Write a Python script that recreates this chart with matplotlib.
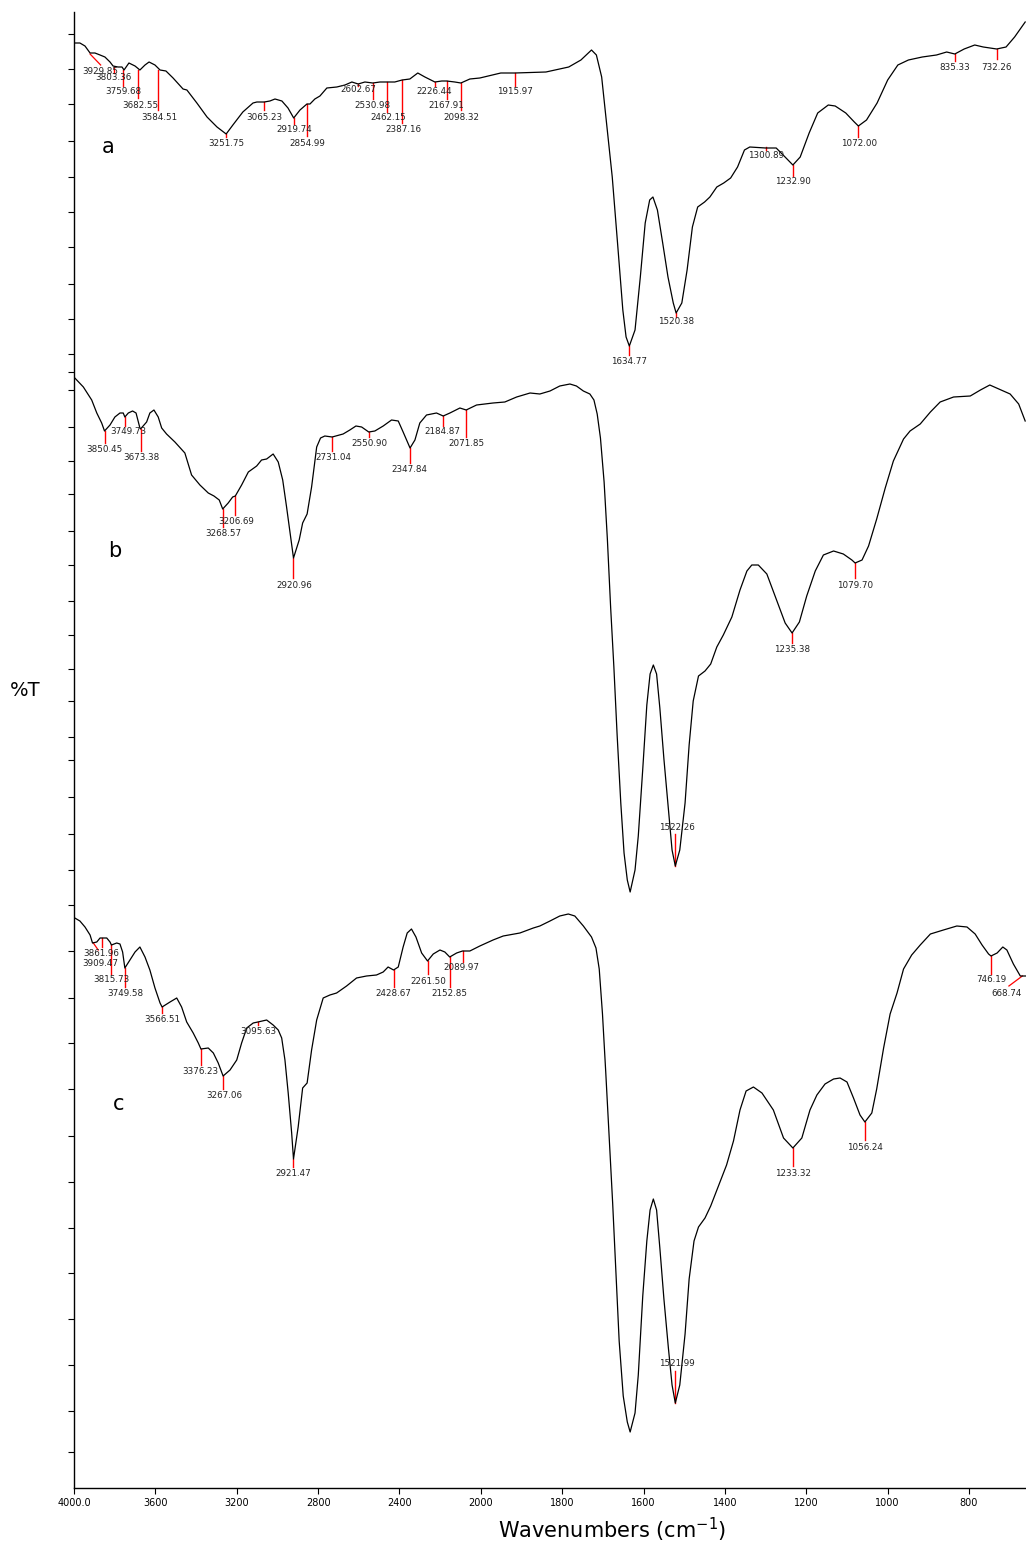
import numpy as np
import matplotlib
matplotlib.use("Agg")
import matplotlib.pyplot as plt

# ---------------- data (wavenumber cm-1, transmittance arb. units) ----------------
a_wn = [3996, 3971, 3946, 3921, 3897, 3872, 3848, 3823, 3808, 3784, 3764, 3754, 3730, 3700, 3676,
        3651, 3631, 3602, 3577, 3548, 3513, 3464, 3445, 3396, 3346, 3297, 3252, 3219, 3170, 3120,
        3101, 3065, 3037, 3012, 2978, 2948, 2920, 2889, 2855, 2840, 2816, 2791, 2757, 2708, 2668,
        2634, 2603, 2570, 2531, 2496, 2462, 2423, 2387, 2349, 2310, 2275, 2226, 2192, 2168, 2128,
        2098, 2054, 2005, 1951, 1916, 1840, 1784, 1754, 1728, 1716, 1703, 1690, 1677, 1664, 1651,
        1643, 1635, 1621, 1608, 1596, 1585, 1577, 1566, 1553, 1540, 1527, 1520, 1506, 1493, 1480,
        1467, 1450, 1437, 1420, 1403, 1386, 1369, 1352, 1339, 1300, 1274, 1257, 1233, 1215, 1193,
        1172, 1146, 1129, 1103, 1082, 1072, 1052, 1026, 1000, 975, 949, 915, 880, 855, 835,
        812, 786, 765, 732, 709, 688, 662]
a_t = [1445, 1445, 1442, 1435, 1435, 1433, 1431, 1426, 1422, 1421, 1421, 1418, 1425, 1422, 1418,
       1423, 1426, 1423, 1418, 1417, 1410, 1399, 1398, 1385, 1371, 1361, 1354, 1363, 1376, 1385,
       1386, 1386, 1387, 1389, 1387, 1380, 1370, 1378, 1384, 1384, 1389, 1392, 1400, 1401, 1403,
       1406, 1404, 1406, 1405, 1406, 1406, 1406, 1408, 1409, 1415, 1411, 1406, 1407, 1407, 1406,
       1405, 1409, 1410, 1415, 1415, 1416, 1421, 1428, 1438, 1433, 1411, 1361, 1311, 1245, 1178,
       1151, 1142, 1158, 1211, 1265, 1288, 1291, 1278, 1245, 1211, 1185, 1175, 1185, 1218, 1261,
       1281, 1286, 1291, 1301, 1305, 1310, 1321, 1338, 1341, 1340, 1340, 1333, 1323, 1331, 1355,
       1375, 1383, 1382, 1375, 1366, 1362, 1368, 1385, 1408, 1423, 1428, 1431, 1433, 1436, 1434,
       1439, 1443, 1441, 1439, 1441, 1451, 1466]

b_wn = [3996, 3954, 3913, 3888, 3864, 3850, 3823, 3799, 3774, 3758, 3750, 3733, 3712, 3695, 3676,
        3673, 3643, 3627, 3607, 3586, 3569, 3545, 3504, 3455, 3422, 3381, 3340, 3312, 3286, 3269,
        3242, 3220, 3207, 3176, 3143, 3102, 3078, 3053, 3021, 2996, 2974, 2955, 2935, 2921, 2893,
        2876, 2854, 2832, 2807, 2788, 2767, 2731, 2677, 2644, 2614, 2586, 2551, 2521, 2480, 2439,
        2406, 2382, 2348, 2324, 2300, 2267, 2218, 2185, 2152, 2103, 2072, 2021, 1970, 1941, 1912,
        1879, 1855, 1830, 1806, 1781, 1765, 1748, 1732, 1722, 1714, 1706, 1697, 1689, 1681, 1673,
        1665, 1656, 1648, 1640, 1633, 1621, 1613, 1602, 1592, 1584, 1576, 1568, 1560, 1550, 1539,
        1530, 1522, 1511, 1498, 1488, 1478, 1465, 1449, 1435, 1420, 1404, 1383, 1363, 1346, 1334,
        1318, 1297, 1273, 1252, 1235, 1217, 1199, 1178, 1158, 1133, 1109, 1088, 1080, 1063, 1047,
        1027, 1006, 986, 961, 945, 920, 895, 871, 838, 797, 772, 749, 727, 699, 678, 662]
b_t = [1110, 1101, 1088, 1075, 1065, 1057, 1063, 1071, 1075, 1075, 1071, 1075, 1077, 1075, 1060,
       1059, 1066, 1075, 1078, 1071, 1060, 1054, 1046, 1035, 1013, 1003, 995, 992, 988, 979,
       985, 991, 992, 1003, 1016, 1022, 1028, 1029, 1034, 1026, 1008, 981, 951, 930, 948,
       965, 974, 1001, 1041, 1050, 1052, 1051, 1054, 1058, 1062, 1061, 1056, 1057, 1062, 1068,
       1067, 1056, 1040, 1048, 1065, 1073, 1075, 1072, 1075, 1080, 1078, 1083, 1085, 1086, 1091,
       1095, 1094, 1097, 1102, 1104, 1102, 1097, 1094, 1088, 1074, 1050, 1006, 949, 881, 821,
       753, 685, 635, 608, 596, 618, 652, 719, 783, 814, 823, 814, 780, 729, 679,
       638, 622, 638, 685, 743, 787, 812, 817, 824, 841, 853, 871, 898, 917, 923,
       923, 914, 888, 865, 855, 866, 892, 917, 933, 937, 934, 928, 925, 928, 942,
       969, 1000, 1027, 1049, 1057, 1064, 1076, 1086, 1091, 1092, 1098, 1103, 1099, 1094, 1084, 1067]

c_wn = [3996, 3971, 3946, 3921, 3909, 3888, 3872, 3862, 3839, 3823, 3816, 3790, 3774, 3761, 3750,
        3725, 3700, 3676, 3651, 3627, 3602, 3577, 3567, 3528, 3495, 3471, 3446, 3414, 3389, 3376,
        3340, 3315, 3291, 3267, 3233, 3200, 3176, 3151, 3119, 3096, 3053, 3021, 2996, 2979, 2963,
        2947, 2930, 2921, 2898, 2876, 2854, 2832, 2807, 2775, 2742, 2709, 2660, 2611, 2562, 2513,
        2480, 2456, 2429, 2406, 2382, 2362, 2341, 2319, 2291, 2262, 2234, 2201, 2177, 2153, 2119,
        2090, 2054, 2005, 1970, 1945, 1904, 1871, 1855, 1830, 1806, 1785, 1769, 1748, 1728, 1717,
        1709, 1701, 1693, 1684, 1676, 1668, 1660, 1650, 1640, 1633, 1621, 1613, 1602, 1592, 1584,
        1576, 1568, 1560, 1550, 1539, 1530, 1522, 1511, 1498, 1488, 1476, 1465, 1449, 1435, 1416,
        1396, 1379, 1363, 1348, 1330, 1309, 1281, 1256, 1233, 1211, 1191, 1174, 1154, 1133, 1117,
        1100, 1084, 1068, 1056, 1039, 1027, 1010, 994, 977, 961, 941, 920, 895, 863, 830,
        805, 785, 768, 752, 746, 731, 717, 707, 691, 674, 669, 660]
c_t = [570, 567, 561, 553, 545, 546, 550, 550, 550, 546, 543, 545, 544, 536, 520,
       528, 536, 541, 531, 518, 500, 485, 481, 486, 490, 481, 466, 455, 445, 439,
       440, 435, 425, 412, 418, 428, 445, 460, 465, 466, 468, 463, 458, 450, 428,
       395, 355, 329, 361, 400, 405, 438, 468, 490, 493, 495, 502, 510, 512, 513,
       516, 521, 518, 521, 541, 555, 559, 551, 535, 527, 534, 538, 536, 531, 535,
       537, 537, 542, 548, 552, 555, 560, 562, 567, 572, 574, 572, 562, 551, 540,
       519, 474, 416, 347, 285, 216, 147, 92, 66, 56, 75, 113, 192, 247, 278,
       289, 278, 240, 189, 140, 103, 85, 103, 154, 209, 247, 261, 270, 282, 302,
       323, 347, 378, 397, 401, 395, 378, 350, 340, 350, 378, 393, 404, 409, 410,
       406, 390, 373, 366, 375, 399, 440, 474, 495, 519, 533, 543, 554, 558, 562,
       561, 554, 543, 534, 532, 535, 541, 538, 524, 512, 512, 512]

# peak labels: (text, line wavenumber, line top T, line bottom T, text wavenumber, text T)
a_peaks = [("3803.36", 3803, 1421, 1415, 3807, 1410),
           ("3759.68", 3760, 1418, 1402, 3758, 1396),
           ("3682.55", 3683, 1418, 1390, 3676, 1383),
           ("3584.51", 3585, 1418, 1378, 3581, 1370),
           ("3251.75", 3252, 1354, 1351, 3253, 1345),
           ("3065.23", 3065, 1386, 1378, 3066, 1370),
           ("2919.74", 2920, 1370, 1364, 2919, 1359),
           ("2854.99", 2855, 1384, 1352, 2854, 1345),
           ("2602.67", 2603, 1404, 1402, 2603, 1398),
           ("2530.98", 2531, 1405, 1389, 2532, 1383),
           ("2462.15", 2462, 1406, 1376, 2456, 1370),
           ("2387.16", 2387, 1408, 1365, 2382, 1359),
           ("2226.44", 2226, 1406, 1402, 2231, 1397),
           ("2167.91", 2168, 1407, 1389, 2169, 1383),
           ("2098.32", 2098, 1405, 1378, 2095, 1370),
           ("1915.97", 1916, 1415, 1402, 1916, 1396),
           ("1634.77", 1635, 1142, 1133, 1635, 1127),
           ("1520.38", 1520, 1175, 1171, 1520, 1166),
           ("1300.89", 1300, 1341, 1338, 1299, 1332),
           ("1232.90", 1233, 1323, 1312, 1233, 1306),
           ("1072.00", 1072, 1362, 1351, 1071, 1345),
           ("835.33", 835, 1434, 1427, 836, 1421),
           ("732.26", 732, 1439, 1429, 732, 1421)]
b_peaks = [("3850.45", 3850, 1057, 1045, 3848, 1039),
           ("3749.73", 3750, 1071, 1062, 3733, 1056),
           ("3673.38", 3673, 1059, 1037, 3667, 1031),
           ("3206.69", 3207, 992, 973, 3200, 967),
           ("3268.57", 3269, 979, 961, 3266, 955),
           ("2920.96", 2921, 930, 910, 2919, 903),
           ("2731.04", 2731, 1051, 1037, 2726, 1031),
           ("2550.90", 2551, 1056, 1051, 2549, 1045),
           ("2347.84", 2348, 1040, 1025, 2349, 1018),
           ("2184.87", 2185, 1072, 1062, 2188, 1056),
           ("2071.85", 2072, 1078, 1051, 2071, 1044),
           ("1522.26", 1522, 622, 654, 1519, 661),
           ("1235.38", 1235, 855, 845, 1236, 839),
           ("1079.70", 1080, 925, 910, 1080, 903)]
c_peaks = [("3861.96", 3862, 550, 541, 3864, 535),
           ("3815.73", 3816, 543, 514, 3815, 508),
           ("3749.58", 3750, 520, 501, 3749, 494),
           ("3566.51", 3567, 481, 475, 3564, 468),
           ("3095.63", 3096, 466, 463, 3094, 456),
           ("3376.23", 3376, 439, 423, 3381, 416),
           ("3267.06", 3267, 412, 399, 3263, 392),
           ("2921.47", 2921, 329, 321, 2922, 315),
           ("2428.67", 2429, 518, 501, 2431, 494),
           ("2261.50", 2262, 527, 514, 2259, 507),
           ("2152.85", 2153, 531, 501, 2156, 494),
           ("2089.97", 2090, 537, 526, 2095, 520),
           ("1521.99", 1522, 85, 117, 1519, 124),
           ("1233.32", 1233, 340, 322, 1233, 315),
           ("1056.24", 1056, 366, 348, 1055, 341),
           ("746.19", 746, 532, 514, 746, 508)]
# labels with slanted leader lines: (text, (wn0, T0), (wn1, T1), text wn, text T)
slanted = [("3929.85", (3921, 1434), (3869, 1423), 3872, 1416),
           ("3909.47", (3905, 545), (3881, 538), 3872, 525),
           ("668.74", (669, 512), (702, 502), 707, 495)]

panel_names = ["a", "b", "c"]
panel_pos = [(3834, 1341), (3799, 937), (3779, 384)]

xtick_vals = [4000, 3600, 3200, 2800, 2400, 2000, 1800, 1600, 1400, 1200, 1000, 800]
xtick_text = ["4000.0", "3600", "3200", "2800", "2400", "2000", "1800", "1600", "1400",
              "1200", "1000", "800"]
ytick_vals = [1454, 1419, 1384, 1347, 1311, 1276, 1241, 1204, 1169, 1134, 1116, 1098, 1061,
              1027, 994, 957, 923, 887, 853, 819, 787, 751, 728, 691, 654, 618, 583, 537,
              490, 445, 399, 352, 306, 260, 215, 169, 123, 77, 36]

# ---------------- figure ----------------
W, H = 1026, 1545
fig = plt.figure(figsize=(W / 100, H / 100), dpi=100)
ax = fig.add_axes([74 / W, (H - 1488) / H, (1026 - 74) / W, 1476 / H])


def fwd(w):
    w = np.asarray(w, dtype=float)
    return np.where(w < 2000, w, 2000 + (w - 2000) / 2.0)


def inv(u):
    u = np.asarray(u, dtype=float)
    return np.where(u < 2000, u, 2000 + 2.0 * (u - 2000))


ax.set_xscale("function", functions=(fwd, inv))
ax.set_xlim(4000, 660)
ax.set_ylim(0, 1476)

for wn, t in [(a_wn, a_t), (b_wn, b_t), (c_wn, c_t)]:
    ax.plot(wn, t, color="black", lw=0.9, solid_joinstyle="round", zorder=3)

lab_kw = dict(fontsize=6.3, ha="center", va="center", color="#222222", zorder=4)
for peaks in (a_peaks, b_peaks, c_peaks):
    for txt, lw_, y0, y1, tx, ty in peaks:
        ax.plot([lw_, lw_], [y0, y1], color="red", lw=1.0, zorder=2)
        ax.text(tx, ty, txt, **lab_kw)
for txt, p0, p1, tx, ty in slanted:
    ax.plot([p0[0], p1[0]], [p0[1], p1[1]], color="red", lw=0.9, zorder=2)
    ax.text(tx, ty, txt, **lab_kw)

for name, (px, py) in zip(panel_names, panel_pos):
    ax.text(px, py, name, fontsize=15, ha="center", va="center", color="black")

ax.set_xticks(xtick_vals)
ax.set_xticklabels(xtick_text)
ax.xaxis.set_minor_locator(matplotlib.ticker.NullLocator())
ax.set_yticks(ytick_vals)
ax.set_yticklabels([])
ax.tick_params(axis="x", direction="out", length=4, width=0.8, labelsize=7, pad=3)
ax.tick_params(axis="y", direction="out", length=4, width=0.8)
for s in ("top", "right"):
    ax.spines[s].set_visible(False)
for s in ("left", "bottom"):
    ax.spines[s].set_linewidth(1.0)

fig.text(612 / W, 1 - 1530 / H, "Wavenumbers (cm$^{-1}$)", fontsize=15, ha="center",
         va="center")
fig.text(25 / W, 1 - 690 / H, "%T", fontsize=14, ha="center", va="center")

fig.savefig("out.png", dpi=100)
